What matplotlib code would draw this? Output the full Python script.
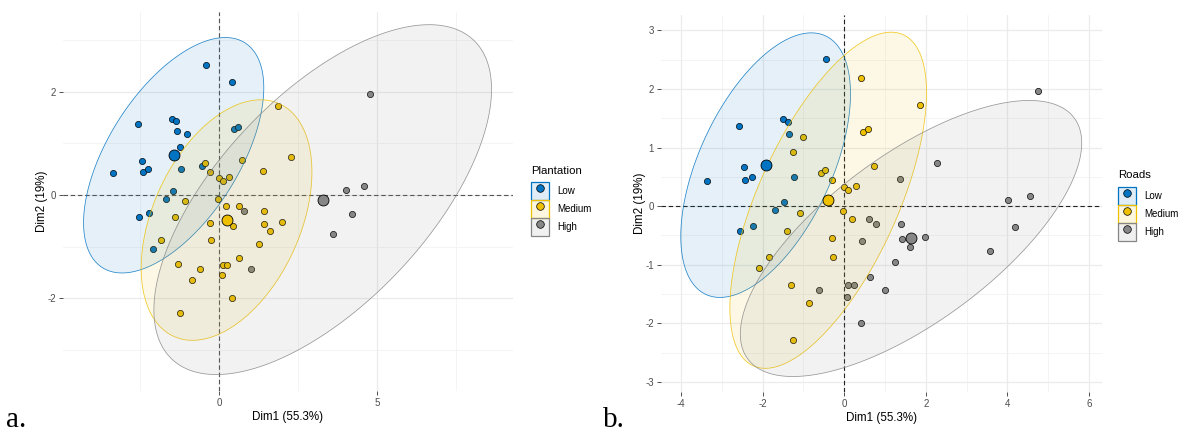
import numpy as np
import matplotlib
matplotlib.use("Agg")
import matplotlib.pyplot as plt
from matplotlib.lines import Line2D
from matplotlib.patches import Patch, Polygon
from matplotlib.legend_handler import HandlerTuple
from matplotlib.colors import to_rgba

plt.rcParams['font.family'] = ['Liberation Sans', 'DejaVu Sans']
plt.rcParams['axes.unicode_minus'] = False

# Individual coordinates on the first two principal components
dim1 = [-0.44, -2.59, -1.50, -1.38, -1.35, -2.46, -2.42, -2.25, -3.36, -1.23, -1.48, -1.69, -2.56, -2.24,
        0.41, 1.86, 0.47, 0.59, -1.02, -1.25, 0.73, -0.56, -0.47, -0.31, 0.00, 0.10, 0.30, -1.08,
        -0.04, 0.20, -1.40, -0.29, -1.85, -0.28, -2.09, -1.31, -0.86, -1.25,
        0.61, 0.78, 0.43, -0.61, 0.10, 0.23, 0.07, 0.63, 1.01, 0.41, 1.24, 4.75, 2.28, 1.37,
        4.02, 4.56, 1.40, 4.18, 1.41, 1.61, 1.99, 3.58]
dim2 = [2.51, 1.37, 1.48, 1.43, 1.23, 0.66, 0.44, 0.50, 0.43, 0.50, 0.07, -0.07, -0.42, -0.34,
        2.18, 1.73, 1.27, 1.31, 1.18, 0.92, 0.68, 0.56, 0.61, 0.44, 0.33, 0.28, 0.35, -0.12,
        -0.08, -0.22, -0.43, -0.54, -0.86, -0.86, -1.05, -1.34, -1.65, -2.29,
        -0.22, -0.31, -0.60, -1.43, -1.35, -1.35, -1.55, -1.21, -1.43, -1.99, -0.95, 1.96, 0.74, 0.47,
        0.10, 0.18, -0.31, -0.36, -0.56, -0.69, -0.52, -0.76]

# Group of each individual (L = Low, M = Medium, H = High)
plantation = list("LLLLLLLLLLLLLL"
                  "LMLLLLMLMMMMMMMMMMMMLMMM"
                  "MHMMMMMMHMMHMMHHMHMMMH")
roads = list("LLLLLLLLLLLLLL"
             "MMMMMMMMMMMMMMMMMMMMMMMM"
             "HHHHHHHHHHHHHHHHHHHHHH")

levels = ["Low", "Medium", "High"]
codes = {"Low": "L", "Medium": "M", "High": "H"}
palette = {"Low": "#0073C2", "Medium": "#EFC000", "High": "#868686"}

x_all = np.array(dim1)
y_all = np.array(dim2)

W, H = 1182, 434
fig = plt.figure(figsize=(W / 100, H / 100), dpi=100)


def axes_px(left, right, top, bottom):
    return fig.add_axes([left / W, 1 - bottom / H, (right - left) / W, (bottom - top) / H])


def norm_ellipse(x, y, level=0.95, n_seg=201):
    """Normal-theory data ellipse (as in stat_ellipse type='norm')."""
    n = len(x)
    cov = np.cov(x, y)
    d = n - 1
    qf = d / 2.0 * ((1 - level) ** (-2.0 / d) - 1)
    r = np.sqrt(2 * qf)
    t = np.linspace(0, 2 * np.pi, n_seg)
    circ = np.column_stack([np.cos(t), np.sin(t)])
    upper = np.linalg.cholesky(cov).T
    return np.array([x.mean(), y.mean()]) + r * circ @ upper


def draw_panel(ax, groups, xlim, ylim, xmaj, xmin, ymaj, ymin, dash_col):
    g = np.array(groups)
    ax.set_xlim(*xlim)
    ax.set_ylim(*ylim)
    ax.set_xticks(xmaj)
    ax.set_xticks(xmin, minor=True)
    ax.set_yticks(ymaj)
    ax.set_yticks(ymin, minor=True)
    ax.grid(True, which='major', color='#EBEBEB', lw=0.9, zorder=0)
    ax.grid(True, which='minor', color='#F2F2F2', lw=0.6, zorder=0)
    ax.set_axisbelow(True)
    for s in ax.spines.values():
        s.set_visible(False)
    ax.tick_params(which='major', length=3, width=0.6, color='#333333',
                   labelsize=7, labelcolor='#4D4D4D', pad=2)
    ax.tick_params(which='minor', length=0)

    ax.axhline(0, ls=(0, (4, 2.5)), color=dash_col, lw=0.8, zorder=1)
    ax.axvline(0, ls=(0, (4, 2.5)), color=dash_col, lw=0.8, zorder=1)

    for lev in levels:
        m = g == codes[lev]
        c = palette[lev]
        ax.scatter(x_all[m], y_all[m], s=20, c=c, edgecolors='black',
                   linewidths=0.5, zorder=2)
    for lev in levels:
        m = g == codes[lev]
        c = palette[lev]
        pts = norm_ellipse(x_all[m], y_all[m])
        ax.add_patch(Polygon(pts, closed=True, facecolor=to_rgba(c, 0.1),
                             edgecolor=to_rgba(c, 0.85), lw=0.55, zorder=3))
    for lev in levels:
        m = g == codes[lev]
        c = palette[lev]
        ax.scatter([x_all[m].mean()], [y_all[m].mean()], s=62, c=c,
                   edgecolors='black', linewidths=0.6, zorder=4)

    ax.set_xlabel("Dim1 (55.3%)", fontsize=8.4, labelpad=2.5)
    ax.set_ylabel("Dim2 (19%)", fontsize=8.4, labelpad=-0.5)


def add_legend(title, x_px, title_y_px, keys_top_px):
    fig.text(x_px / W, 1 - title_y_px / H, title, fontsize=8.2,
             ha='left', va='center')
    handles = []
    for lev in levels:
        c = palette[lev]
        box = Patch(facecolor=to_rgba(c, 0.12), edgecolor=c, linewidth=0.9)
        dot = Line2D([], [], ls='none', marker='o', ms=5.5, mfc=c,
                     mec='black', mew=0.5)
        handles.append((box, dot))
    fig.legend(handles, levels, handler_map={tuple: HandlerTuple(ndivide=1, pad=0)},
               loc='upper left',
               bbox_to_anchor=(x_px / W, 1 - keys_top_px / H), frameon=False,
               fontsize=7, handlelength=1.85, handleheight=2.45,
               handletextpad=0.8, labelspacing=0.02, borderpad=0, borderaxespad=0)


# Panel a: grouped by plantation
ax1 = axes_px(63, 513, 12, 391)
draw_panel(ax1, plantation, (-4.95, 9.29), (-3.79, 3.54),
           [0, 5], [-2.5, 2.5, 7.5], [-2, 0, 2], [-3, -1, 1, 3], '#555555')
add_legend("Plantation", 531, 171, 182)

# Panel b: grouped by roads
ax2 = axes_px(661, 1102, 15, 392)
draw_panel(ax2, roads, (-4.49, 6.32), (-3.17, 3.26),
           [-4, -2, 0, 2, 4, 6], [-3, -1, 1, 3, 5],
           [-3, -2, -1, 0, 1, 2, 3], [-2.5, -1.5, -0.5, 0.5, 1.5, 2.5], '#222222')
add_legend("Roads", 1118, 175, 187)

fig.text(6 / W, 1 - 427 / H, "a.", fontsize=21, family='Liberation Serif', va='baseline')
fig.text(603 / W, 1 - 427 / H, "b.", fontsize=21, family='Liberation Serif', va='baseline')

fig.savefig("out.png", dpi=100)
